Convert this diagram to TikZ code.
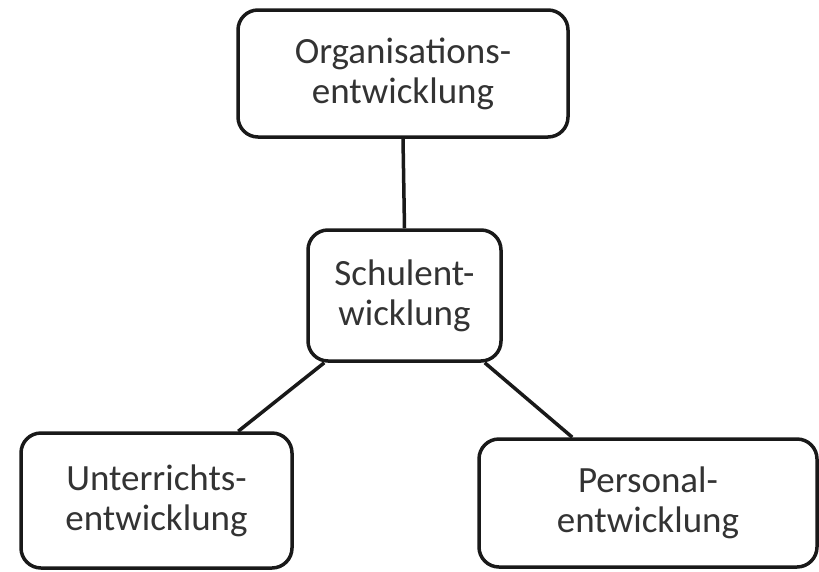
\documentclass[tikz,border=0pt]{standalone}
\usepackage{fontspec}
\setmainfont{Carlito}
\usetikzlibrary{calc}
\begin{document}
\begin{tikzpicture}[x=1pt,y=-1pt,
  box/.style={draw=black!90, line width=3.5pt, rounded corners=20pt, fill=white,
    align=center, inner sep=0pt, text=black!80,
    font=\fontsize{37}{40}\selectfont},
  conn/.style={draw=black!90, line width=3.5pt}]
\useasboundingbox (0,0) rectangle (819,571);
\node[box, minimum width=330pt, minimum height=127pt] (org) at (403,73.5) {Organisations-\\entwicklung};
\node[box, minimum width=193pt, minimum height=131pt] (sch) at (404.5,295.5) {Schulent-\\wicklung};
\node[box, minimum width=271pt, minimum height=135pt] (unt) at (156.5,500.5) {Unterrichts-\\entwicklung};
\node[box, minimum width=338pt, minimum height=128pt] (per) at (648,503) {Personal-\\entwicklung};
\coordinate (s1) at ($(sch.south west)+(18,0)$);
\coordinate (s2) at ($(sch.south east)+(-18,0)$);
\coordinate (u1) at ($(unt.north west)+(219,0)$);
\coordinate (p1) at ($(per.north west)+(95,0)$);
\draw[conn] (org.south) -- (sch.north);
\draw[conn] (s1) -- (u1);
\draw[conn] (s2) -- (p1);
\end{tikzpicture}
\end{document}
